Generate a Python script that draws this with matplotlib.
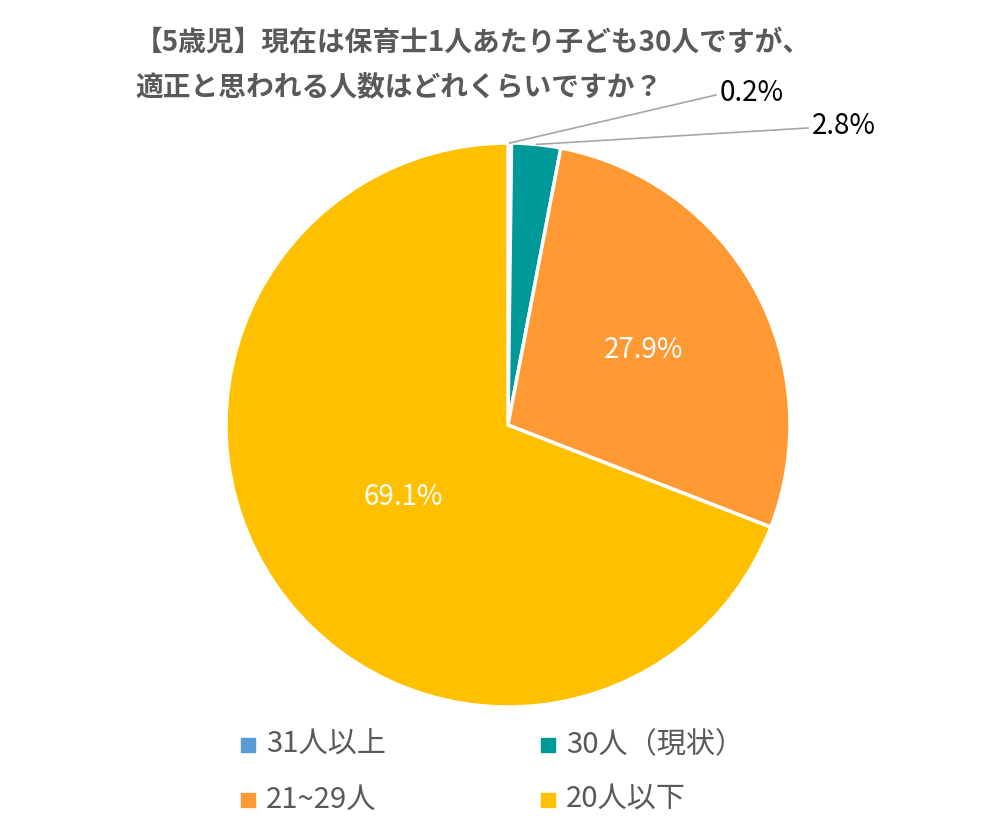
import numpy as np
import matplotlib.pyplot as plt
from matplotlib.patches import Rectangle

plt.rcParams['font.family'] = 'Noto Sans CJK JP'

categories = ['31人以上', '30人（現状）', '21~29人', '20人以下']
values = [0.2, 2.8, 27.9, 69.1]
colors = ['#5B9BD5', '#009999', '#FF9933', '#FFC000']
title_lines = ['【5歳児】現在は保育士1人あたり子ども30人ですが、',
               '適正と思われる人数はどれくらいですか？']

fig = plt.figure(figsize=(10, 8.33), dpi=100)
ax = fig.add_axes([0, 0, 1, 1])

cx, cy, r = 508, 408, 282
wedges, _ = ax.pie(values, colors=colors, startangle=90, counterclock=False,
                   center=(cx, cy), radius=r, frame=True,
                   wedgeprops=dict(edgecolor='white', linewidth=2.5))
ax.set_xlim(0, 1000)
ax.set_ylim(0, 833)
ax.axis('off')

# mid angles of slices
total = sum(values)
starts = 90 - np.cumsum([0] + values[:-1]) / total * 360
mids = starts - np.array(values) / total * 180

# inside labels
for i in (2, 3):
    a = np.radians(mids[i])
    d = 0.55 * r if i == 2 else 0.45 * r
    ax.text(cx + d * np.cos(a), cy + d * np.sin(a), f'{values[i]}%',
            color='white', fontsize=20, ha='center', va='center')

# outside labels with leader lines
label_pos = [(716, 738), (808, 705)]
for i, (lx, ly) in zip((0, 1), label_pos):
    a = np.radians(mids[i])
    ex, ey = cx + r * np.cos(a), cy + r * np.sin(a)
    ax.plot([ex, lx], [ey, ly], color='#A6A6A6', lw=1.2)
    ax.text(lx + 4, ly + 2, f'{values[i]}%', fontsize=20, ha='left', va='center')

# title
for k, line in enumerate(title_lines):
    ax.text(135, 790 - k * 45, line, fontsize=20, fontweight='bold',
            color='#595959', ha='left', va='center')

# legend
legend_pos = [(248, 88), (548, 88), (248, 33), (548, 33)]
for (lx, ly), c, name in zip(legend_pos, colors, categories):
    ax.add_patch(Rectangle((lx - 7, ly - 7), 14, 14, color=c))
    ax.text(lx + 18, ly, name, fontsize=21, color='#595959', ha='left', va='center')

fig.savefig('out.png', dpi=100)
